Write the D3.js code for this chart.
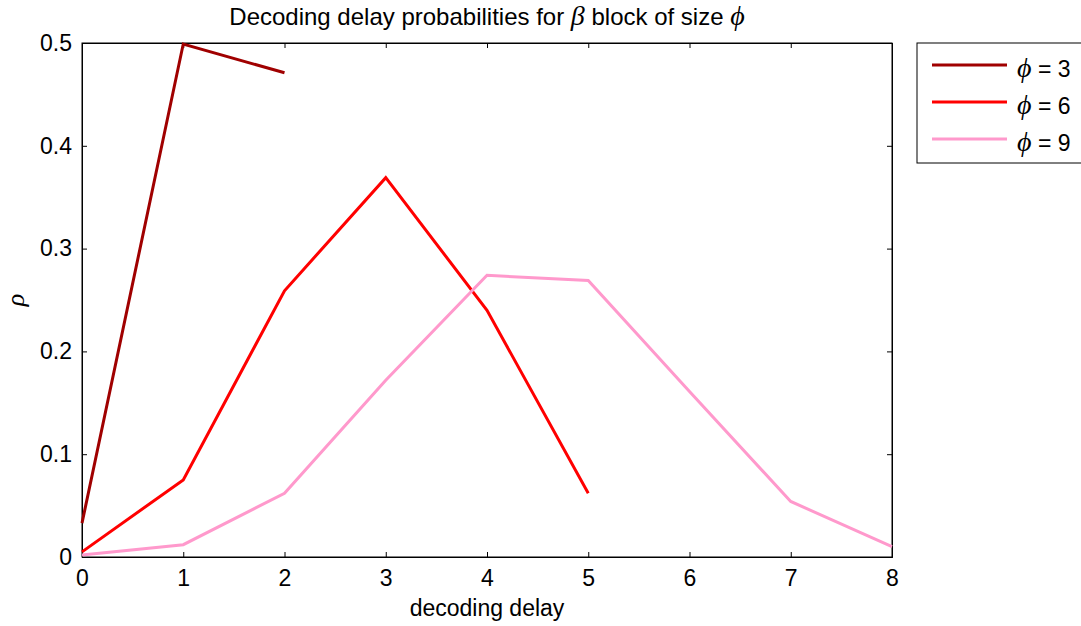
<!DOCTYPE html>
<html>
<head>
<meta charset="utf-8">
<script src="https://cdn.jsdelivr.net/npm/d3@7"></script>
<style>
  body { margin: 0; background: #fff; }
  svg { font-family: "Liberation Sans", Arial, sans-serif; }
</style>
</head>
<body>
<svg id="chart" width="1081" height="626"></svg>
<script>
// data
var delays = [0, 1, 2, 3, 4, 5, 6, 7, 8];
var phi3 = [0.033, 0.499, 0.471];
var phi6 = [0.005, 0.075, 0.259, 0.369, 0.240, 0.062];
var phi9 = [0.002, 0.012, 0.062, 0.172, 0.274, 0.269, 0.161, 0.054, 0.010];
var seriesNames = ["3", "6", "9"];
var colors = ["#a00000", "#ff0000", "#ff99cc"];
var xTicks = [0, 1, 2, 3, 4, 5, 6, 7, 8];
var yTicks = [0, 0.1, 0.2, 0.3, 0.4, 0.5];

var margin = {left: 82, top: 43, right: 189, bottom: 69};
var width = 1081 - margin.left - margin.right;
var height = 626 - margin.top - margin.bottom;

var svg = d3.select("#chart");
var g = svg.append("g").attr("transform", "translate(" + margin.left + "," + margin.top + ")");

var x = d3.scaleLinear().domain([0, 8]).range([0, width]);
var y = d3.scaleLinear().domain([0, 0.5]).range([height, 0]);

// box
g.append("rect").attr("width", width).attr("height", height)
  .attr("fill", "none").attr("stroke", "#000").attr("stroke-width", 1);

// axes with inward ticks (matlab style)
var fmt = function (d) { return d === 0 ? "0" : d3.format(".1f")(d); };
var xAxis = g.append("g").attr("transform", "translate(0," + height + ")")
  .call(d3.axisBottom(x).tickValues(xTicks).tickSize(-5).tickPadding(13).tickFormat(d3.format("d")));
var xTop = g.append("g")
  .call(d3.axisTop(x).tickValues(xTicks).tickSize(-5).tickFormat(""));
var yAxis = g.append("g")
  .call(d3.axisLeft(y).tickValues(yTicks).tickSize(-5).tickPadding(10).tickFormat(fmt));
var yRight = g.append("g").attr("transform", "translate(" + width + ",0)")
  .call(d3.axisRight(y).tickValues(yTicks).tickSize(-5).tickFormat(""));

[xAxis, xTop, yAxis, yRight].forEach(function (a) {
  a.select(".domain").attr("stroke", "#000");
  a.selectAll(".tick line").attr("stroke", "#000");
  a.selectAll("text").attr("font-size", 23).attr("fill", "#000")
    .attr("font-family", "Liberation Sans, Arial, sans-serif");
});

// lines
var line = d3.line()
  .x(function (d, i) { return x(delays[i]); })
  .y(function (d) { return y(d); });

[phi3, phi6, phi9].forEach(function (s, i) {
  g.append("path").datum(s)
    .attr("fill", "none")
    .attr("stroke", colors[i])
    .attr("stroke-width", 3)
    .attr("stroke-linejoin", "miter")
    .attr("d", line);
});

// title
var title = svg.append("text")
  .attr("x", margin.left + width / 2).attr("y", 25)
  .attr("text-anchor", "middle").attr("font-size", 24);
title.append("tspan").text("Decoding delay probabilities for ");
title.append("tspan").attr("font-family", "Liberation Serif, serif").attr("font-style", "italic")
  .attr("font-size", 28).text("\u03B2");
title.append("tspan").text(" block of size ");
title.append("tspan").attr("font-family", "Liberation Serif, serif").attr("font-style", "italic")
  .attr("font-size", 28).text("\u03D5");

// axis labels
svg.append("text")
  .attr("x", margin.left + width / 2).attr("y", 616)
  .attr("text-anchor", "middle").attr("font-size", 23)
  .text("decoding delay");

svg.append("text")
  .attr("transform", "translate(24," + (margin.top + height / 2) + ") rotate(-90)")
  .attr("text-anchor", "middle")
  .attr("font-family", "Liberation Serif, serif").attr("font-style", "italic")
  .attr("font-size", 26)
  .text("\u03C1");

// legend
var lg = svg.append("g").attr("transform", "translate(917,43)");
lg.append("rect").attr("width", 170).attr("height", 120)
  .attr("fill", "#fff").attr("stroke", "#000").attr("stroke-width", 1);

var items = lg.selectAll(".item").data(seriesNames).enter().append("g")
  .attr("transform", function (d, i) { return "translate(0," + (22 + i * 37) + ")"; });
items.append("line")
  .attr("x1", 15).attr("x2", 90).attr("y1", 0).attr("y2", 0)
  .attr("stroke", function (d, i) { return colors[i]; })
  .attr("stroke-width", 3);
var lt = items.append("text").attr("x", 100).attr("y", 12).attr("font-size", 23);
lt.append("tspan").attr("font-family", "Liberation Serif, serif").attr("font-style", "italic")
  .attr("font-size", 28).text("\u03D5");
lt.append("tspan").text(function (d) { return " = " + d; });
</script>
</body>
</html>
